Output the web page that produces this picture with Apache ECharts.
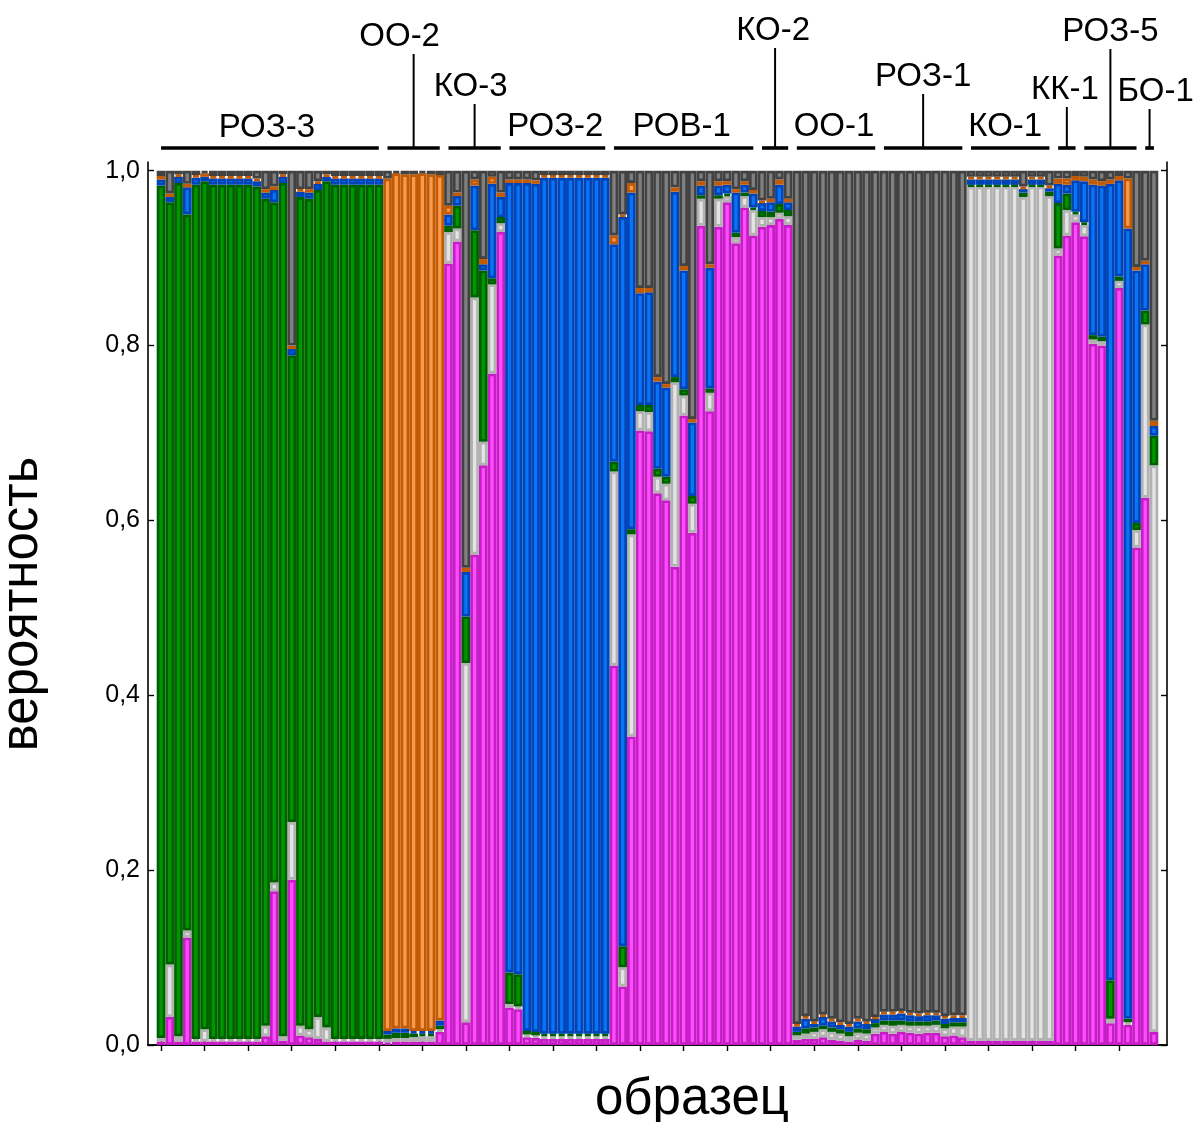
<!DOCTYPE html>
<html>
<head>
<meta charset="utf-8">
<title>вероятность / образец</title>
<script src="https://cdn.jsdelivr.net/npm/echarts@6/dist/echarts.min.js"></script>
<style>
  html, body { margin: 0; padding: 0; background: #ffffff; }
  #chart { width: 1195px; height: 1122px; }
</style>
</head>
<body>
<div id="chart"></div>
<script>
// Membership coefficients of 115 samples in six clusters (stacked, bottom to top).
const pink = [
  .004,.032,.004,.123,.004,.004,.004,.004,.004,.004,
  .004,.004,.010,.176,.005,.189,.011,.009,.007,.004,
  .004,.004,.004,.004,.004,.004,
  .003,.004,.004,.004,.004,.004,.015,
  .894,.919,.026,.561,.663,.768,.930,
  .043,.041,.009,.008,.007,.007,.007,.007,.007,.007,.007,.007,
  .434,.067,.353,.703,.702,.631,.623,.547,.720,.586,.937,.725,.936,.964,.917,.958,.926,
  .936,.938,.945,.938,
  .006,.007,.007,.009,.006,.005,.004,.006,.005,.013,
  .015,.013,.015,.014,.013,.014,.014,.010,.011,.009,
  .005,.005,.005,.005,.005,.005,.005,.005,.005,.005,
  .903,.926,.941,
  .925,.802,.800,.025,.866,.023,.569,
  .626,.015
];
const lightGray = [
  .004,.060,.006,.008,.003,.014,.003,.003,.003,.003,
  .003,.003,.012,.010,.005,.066,.011,.009,.025,.016,
  .003,.003,.003,.003,.003,.003,
  .004,.004,.004,.005,.006,.006,.003,
  .036,.015,.411,.294,.027,.102,.010,
  .004,.003,.003,.003,.003,.003,.003,.003,.003,.003,.003,.003,
  .222,.022,.231,.022,.022,.019,.019,.211,.023,.033,.031,.021,.032,.007,.007,.013,.029,
  .011,.009,.007,.010,
  .005,.006,.008,.009,.009,.008,.006,.008,.008,.007,
  .008,.009,.008,.008,.009,.008,.009,.009,.010,.012,
  .977,.977,.977,.977,.977,.977,.965,.977,.977,.966,
  .008,.029,.009,
  .013,.005,.005,.005,.008,.003,.020,
  .198,.648
];
const green = [
  .975,.872,.976,.819,.977,.970,.977,.977,.977,.977,
  .977,.975,.946,.778,.976,.534,.948,.950,.946,.968,
  .977,.977,.977,.977,.977,.977,
  .005,.006,.006,.004,.003,.003,.004,
  .007,.026,.053,.077,.196,.007,.007,
  .036,.037,.004,.004,.003,.003,.003,.003,.003,.003,.003,.003,
  .011,.024,.006,.007,.008,.009,.008,.006,.007,.009,.004,.005,.004,.003,.005,.004,.003,
  .007,.006,.010,.007,
  .004,.006,.005,.004,.005,.005,.005,.005,.005,.005,
  .005,.006,.005,.005,.005,.005,.005,.005,.005,.005,
  .002,.002,.002,.002,.002,.002,.005,.002,.002,.005,
  .052,.019,.003,
  .003,.005,.005,.044,.005,.004,.008,
  .016,.034
];
const blue = [
  .007,.006,.007,.031,.008,.005,.007,.007,.007,.007,
  .007,.006,.007,.014,.007,.007,.006,.007,.007,.005,
  .007,.007,.007,.007,.007,.007,
  .004,.005,.005,.003,.003,.003,.006,
  .013,.011,.051,.051,.007,.108,.023,
  .903,.905,.970,.970,.979,.979,.979,.979,.979,.979,.979,.979,
  .249,.834,.385,.128,.129,.100,.102,.212,.136,.084,.011,.138,.011,.010,.046,.009,.016,
  .009,.011,.022,.009,
  .006,.011,.004,.010,.007,.005,.006,.008,.006,.005,
  .007,.007,.008,.007,.006,.007,.006,.006,.005,.005,
  .006,.006,.006,.006,.006,.006,.004,.006,.006,.004,
  .022,.010,.036,
  .047,.172,.173,.911,.110,.904,.289,
  .053,.011
];
const orange = [
  .004,.004,.003,.004,.003,.004,.003,.003,.003,.003,
  .003,.003,.004,.004,.003,.004,.003,.004,.003,.003,
  .003,.003,.003,.003,.003,.003,
  .975,.978,.977,.980,.981,.980,.967,
  .010,.004,.005,.007,.006,.008,.005,
  .004,.004,.004,.004,.003,.003,.003,.003,.003,.003,.003,.003,
  .010,.003,.011,.006,.005,.005,.004,.005,.005,.004,.005,.004,.005,.004,.004,.004,.004,
  .003,.004,.006,.004,
  .003,.003,.003,.003,.003,.003,.003,.003,.003,.002,
  .003,.003,.003,.003,.003,.003,.003,.003,.003,.003,
  .003,.003,.003,.003,.003,.003,.003,.003,.003,.003,
  .006,.007,.005,
  .005,.006,.005,.005,.005,.057,.004,
  .004,.006
];
const darkGray = [
  .006,.026,.004,.015,.005,.003,.006,.006,.006,.006,
  .006,.009,.021,.018,.004,.200,.021,.021,.012,.004,
  .006,.006,.006,.006,.006,.006,
  .009,.003,.004,.004,.003,.004,.005,
  .040,.025,.454,.010,.101,.007,.025,
  .010,.010,.010,.011,.005,.005,.005,.005,.005,.005,.005,.005,
  .074,.050,.014,.134,.134,.236,.244,.019,.109,.284,.012,.107,.012,.012,.021,.012,.022,
  .034,.032,.010,.032,
  .976,.967,.973,.965,.970,.974,.976,.970,.973,.968,
  .962,.962,.961,.963,.964,.963,.963,.967,.966,.966,
  .007,.007,.007,.007,.007,.007,.018,.007,.007,.017,
  .009,.009,.006,
  .007,.010,.012,.010,.006,.009,.110,
  .103,.286
];

// Sample numbers along the x axis.
const samples = pink.map((_, i) => String(i + 1));

// Populations: name, first sample index, last sample index (0-based, inclusive).
const groupNames = ['РОЗ-3', 'ОО-2', 'КО-3', 'РОЗ-2', 'РОВ-1', 'КО-2', 'ОО-1', 'РОЗ-1', 'КО-1', 'КК-1', 'РОЗ-5', 'БО-1'];
const groupFirst = [0, 26, 33, 40, 52, 69, 73, 83, 93, 103, 106, 113];
const groupLast  = [25, 32, 39, 51, 68, 72, 82, 92, 102, 105, 112, 114];

// Y axis tick values.
const yTicks = [0, 0.2, 0.4, 0.6, 0.8, 1.0];

// Label placement for the population captions: text centre y, x shift, connector stem.
const captionLayout = {
  'РОЗ-3': { y: 128, dx: -3, stem: false },
  'ОО-2':  { y: 37,  dx: -14, stem: true },
  'КО-3':  { y: 87,  dx: -4, stem: true },
  'РОЗ-2': { y: 127, dx: -2, stem: false },
  'РОВ-1': { y: 127, dx: -2, stem: false },
  'КО-2':  { y: 31,  dx: -2, stem: true },
  'ОО-1':  { y: 127, dx: -2, stem: false },
  'РОЗ-1': { y: 77,  dx: 0, stem: true },
  'КО-1':  { y: 127, dx: -5, stem: false },
  'КК-1':  { y: 90,  dx: -2, stem: true },
  'РОЗ-5': { y: 32,  dx: 0, stem: true },
  'БО-1':  { y: 92,  dx: 6, stem: true }
};

const FONT = '"Liberation Sans", Arial, sans-serif';

// Cluster colours: fill and darker outline.
const clusters = [
  { name: 'pink',      data: pink,      fill: '#ff4cff', edge: '#c41ec4' },
  { name: 'lightGray', data: lightGray, fill: '#e4e4e4', edge: '#b2b2b2' },
  { name: 'green',     data: green,     fill: '#009600', edge: '#006000' },
  { name: 'blue',      data: blue,      fill: '#0a74f4', edge: '#0044b8' },
  { name: 'orange',    data: orange,    fill: '#f89a4c', edge: '#c05a04' },
  { name: 'darkGray',  data: darkGray,  fill: '#808080', edge: '#424242' }
];

// One empty slot on each side of the samples keeps a margin inside the frame.
const cats = [''].concat(samples, ['']).map((c, i) => (i === 0 || i === samples.length + 1) ? 'pad' + i : c);
const padded = arr => [null].concat(arr, [null]);

const chart = echarts.init(document.getElementById('chart'), null, { renderer: 'canvas' });

const tickEvery5 = (idx) => idx >= 1 && idx <= samples.length && (idx - 1) % 5 === 0;
const fmtY = v => {
  const r = Math.round(v * 5);
  if (Math.abs(v * 5 - r) > 1e-6 || v > 1.0001) return '';
  return v.toFixed(1).replace('.', ',');
};

const xAxisBase = {
  type: 'category',
  data: cats,
  boundaryGap: true,
  axisLine: { show: true, lineStyle: { color: '#000', width: 1.6 } },
  axisTick: { show: true, inside: true, length: 6, alignWithLabel: true, interval: tickEvery5, lineStyle: { color: '#000', width: 1.4 } },
  axisLabel: { show: false },
  splitLine: { show: false }
};
const yAxisBase = {
  type: 'value',
  min: 0,
  max: 1.01,
  interval: 0.2,
  axisLine: { show: true, lineStyle: { color: '#000', width: 1.6 } },
  axisTick: { show: true, inside: true, length: 6, customValues: yTicks, lineStyle: { color: '#000', width: 1.4 } },
  splitLine: { show: false }
};

chart.setOption({
  animation: false,
  backgroundColor: '#ffffff',
  grid: { left: 148, right: 28, top: 162, bottom: 77, containLabel: false },
  xAxis: [
    Object.assign({}, xAxisBase, { position: 'bottom' }),
    Object.assign({}, xAxisBase, { position: 'top' })
  ],
  yAxis: [
    Object.assign({}, yAxisBase, {
      position: 'left',
      axisLabel: { show: true, customValues: yTicks, formatter: fmtY, margin: 8, color: '#000', fontSize: 25, fontFamily: FONT }
    }),
    Object.assign({}, yAxisBase, { position: 'right', axisLabel: { show: false } })
  ],
  series: clusters.map(c => ({
    name: c.name,
    type: 'bar',
    stack: 'q',
    xAxisIndex: 0,
    yAxisIndex: 0,
    barCategoryGap: '0%',
    data: padded(c.data),
    itemStyle: { color: c.fill, borderColor: c.edge, borderWidth: 2.7 },
    emphasis: { disabled: true }
  }))
});

// Population captions with underlines running from the first to the last sample centre.
function drawCaptions() {
  const els = [];
  const lineY = 148;
  groupNames.forEach((name, g) => {
    const x1 = chart.convertToPixel({ xAxisIndex: 1 }, groupFirst[g] + 1);
    const x2 = chart.convertToPixel({ xAxisIndex: 1 }, groupLast[g] + 1);
    const mid = (x1 + x2) / 2;
    const lay = captionLayout[name];
    els.push({
      type: 'line', silent: true,
      shape: { x1: x1, y1: lineY, x2: x2, y2: lineY },
      style: { stroke: '#000', lineWidth: 3.6 }
    });
    if (lay.stem) {
      els.push({
        type: 'line', silent: true,
        shape: { x1: mid, y1: lay.y + 17, x2: mid, y2: lineY },
        style: { stroke: '#000', lineWidth: 2 }
      });
    }
    els.push({
      type: 'text', silent: true,
      x: mid + lay.dx, y: lay.y,
      style: { text: name, font: '33px ' + FONT, fill: '#000', align: 'center', verticalAlign: 'middle' }
    });
  });
  // Axis titles
  els.push({
    type: 'text', silent: true,
    x: 23, y: 604, rotation: Math.PI / 2,
    style: { text: 'вероятность', font: '51px ' + FONT, fill: '#000', align: 'center', verticalAlign: 'middle' }
  });
  els.push({
    type: 'text', silent: true,
    x: 692, y: 1100,
    style: { text: 'образец', font: '51px ' + FONT, fill: '#000', align: 'center', verticalAlign: 'middle' }
  });
  chart.setOption({ graphic: { elements: els } });
}
drawCaptions();
</script>
</body>
</html>
